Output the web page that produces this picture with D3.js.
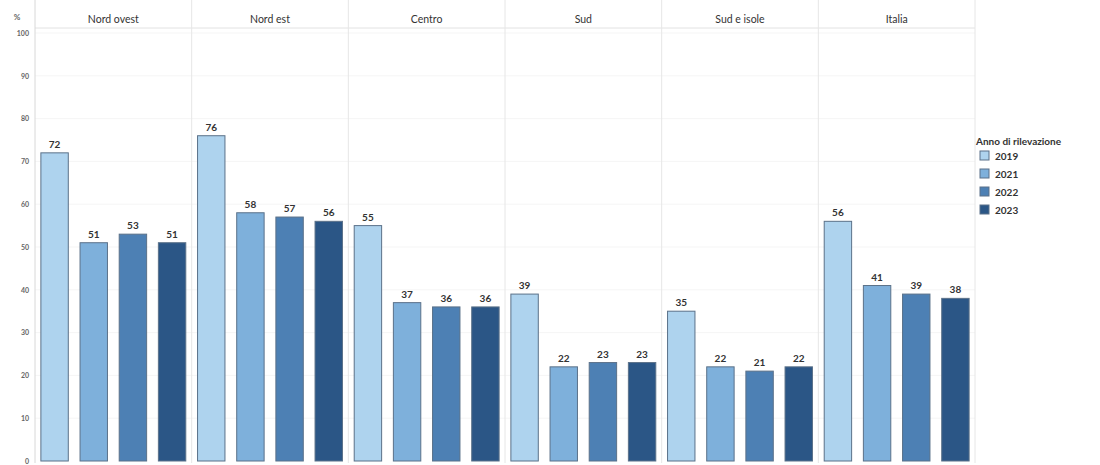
<!DOCTYPE html>
<html>
<head>
<meta charset="utf-8">
<script src="https://cdn.jsdelivr.net/npm/d3@7"></script>
<style>
  body { margin: 0; background: #fff; }
  svg { display: block; font-family: Lato, "Open Sans", sans-serif; }
</style>
</head>
<body>
<svg id="chart" width="1100" height="465"></svg>
<script>
const regions = ["Nord ovest", "Nord est", "Centro", "Sud", "Sud e isole", "Italia"];
const years = ["2019", "2021", "2022", "2023"];
const v2019 = [72, 76, 55, 39, 35, 56];
const v2021 = [51, 58, 37, 22, 22, 41];
const v2022 = [53, 57, 36, 23, 21, 39];
const v2023 = [51, 56, 36, 23, 22, 38];
const yTicks = [0, 10, 20, 30, 40, 50, 60, 70, 80, 90, 100];
const colors = ["#aed3ee", "#7eb0db", "#4d80b4", "#2b5686"];
const legendTitle = "Anno di rilevazione";
const seriesByYear = [v2019, v2021, v2022, v2023];

(function () {
const svg = d3.select("#chart");
const mLeft = 35, mRight = 975, mTop = 28, mBottom = 461;

const y = d3.scaleLinear().domain([0, 100]).range([mBottom, 33]);
const xPanel = d3.scaleBand().domain(regions).range([mLeft, mRight]).padding(0);
const xBar = d3.scaleBand().domain(years).range([0, xPanel.bandwidth()])
  .paddingInner(0.3).paddingOuter(0.15);
const color = d3.scaleOrdinal().domain(years).range(colors);

// horizontal faint grid
svg.append("g").selectAll("line").data(yTicks.filter(d => d > 0)).join("line")
  .attr("x1", mLeft).attr("x2", mRight)
  .attr("y1", d => y(d)).attr("y2", d => y(d))
  .attr("stroke", "#f5f5f5").attr("stroke-width", 1);

// header line
svg.append("line").attr("x1", mLeft).attr("x2", mRight)
  .attr("y1", mTop).attr("y2", mTop).attr("stroke", "#e2e2e2");

// vertical separators
const seps = regions.map(r => xPanel(r)).concat([mRight]);
svg.append("g").selectAll("line").data(seps).join("line")
  .attr("x1", d => d).attr("x2", d => d)
  .attr("y1", 0).attr("y2", mBottom + 2)
  .attr("stroke", (d, i) => i === 0 ? "#d8d8d8" : "#e6e6e6");

// y axis
const yAxis = d3.axisLeft(y).tickValues(yTicks).tickSize(0).tickPadding(6);
const ga = svg.append("g").attr("transform", `translate(${mLeft},0)`).call(yAxis);
ga.select(".domain").remove();
ga.selectAll("text").attr("font-size", 7).attr("fill", "#666").attr("font-weight", 700)
  .attr("font-family", "Lato, sans-serif");

svg.append("text").attr("x", 17).attr("y", 20).attr("text-anchor", "middle")
  .attr("font-size", 8).attr("fill", "#666").attr("font-weight", 700).text("%");

// panels
const data = regions.map((r, i) => ({
  region: r,
  values: years.map((yr, j) => ({ year: yr, value: seriesByYear[j][i] }))
}));

const panels = svg.append("g").selectAll("g").data(data).join("g")
  .attr("transform", d => `translate(${xPanel(d.region)},0)`);

panels.append("text")
  .attr("x", xPanel.bandwidth() / 2).attr("y", 23)
  .attr("text-anchor", "middle").attr("font-size", 10.5)
  .attr("fill", "#333").attr("font-weight", 400)
  .text(d => d.region);

panels.selectAll("rect").data(d => d.values).join("rect")
  .attr("x", d => xBar(d.year)).attr("width", xBar.bandwidth())
  .attr("y", d => y(d.value)).attr("height", d => y(0) - y(d.value))
  .attr("fill", d => color(d.year))
  .attr("stroke", "#5b7189").attr("stroke-width", 1);

panels.selectAll("text.lbl").data(d => d.values).join("text")
  .attr("class", "lbl")
  .attr("x", d => xBar(d.year) + xBar.bandwidth() / 2)
  .attr("y", d => y(d.value) - 5)
  .attr("text-anchor", "middle").attr("font-size", 10)
  .attr("font-weight", 700).attr("fill", "#333")
  .text(d => d.value);

// legend
const lg = svg.append("g").attr("transform", "translate(976,0)");
lg.append("text").attr("x", 0).attr("y", 145).attr("font-size", 10)
  .attr("font-weight", 700).attr("fill", "#333").text(legendTitle);
const items = lg.selectAll("g.item").data(years).join("g")
  .attr("class", "item")
  .attr("transform", (d, i) => `translate(4,${151 + i * 18})`);
items.append("rect").attr("width", 9).attr("height", 9)
  .attr("fill", d => color(d)).attr("stroke", "#5b7189");
items.append("text").attr("x", 15).attr("y", 8.5).attr("font-size", 10)
  .attr("font-weight", 700).attr("fill", "#333").text(d => d);
})();
</script>
</body>
</html>
